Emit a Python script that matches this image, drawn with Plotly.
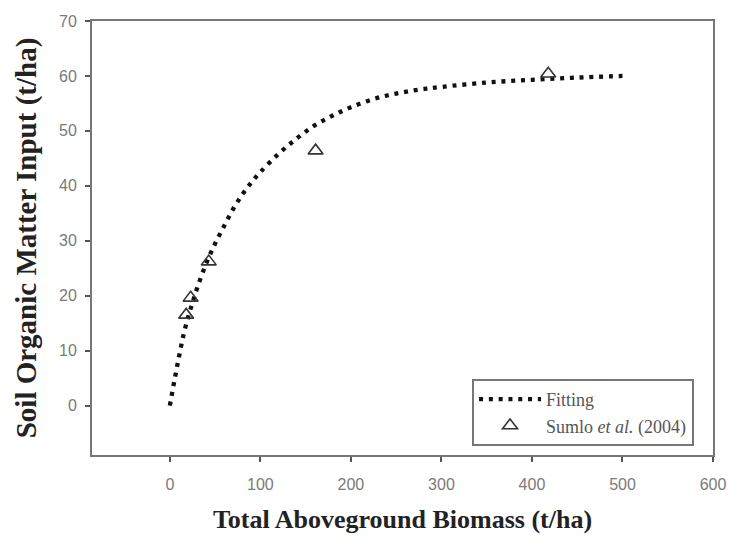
import plotly.graph_objects as go

# Fitted curve
fit_x = [0, 5, 10, 15, 20, 25, 30, 40, 50, 60, 70, 80, 90, 100, 120, 140, 160,
         180, 200, 225, 250, 275, 300, 350, 400, 450, 500]
fit_y = [0, 4.5, 8.8, 12.8, 16.0, 18.7, 21.3, 25.8, 29.5, 32.7, 35.8, 38.4,
         40.6, 42.5, 45.8, 48.6, 51.0, 52.8, 54.3, 55.8, 56.8, 57.5, 58.0,
         58.8, 59.3, 59.7, 60.0]

# Observed data
obs_x = [18, 23, 43, 161, 418]
obs_y = [16.5, 19.6, 26.2, 46.4, 60.4]

x_ticks = [0, 100, 200, 300, 400, 500, 600]
y_ticks = [0, 10, 20, 30, 40, 50, 60, 70]

fig = go.Figure()
fig.add_trace(go.Scatter(
    x=fit_x, y=fit_y, mode="lines", name="Fitting",
    line=dict(color="#111111", width=4.3, dash="4px,5.8px", shape="spline"),
))
fig.add_trace(go.Scatter(
    x=obs_x, y=obs_y, mode="markers", name="Sumlo <i>et al.</i> (2004)",
    marker=dict(symbol="triangle-up-open", size=13, color="#333333",
                line=dict(width=1.6, color="#333333")),
))

axis_common = dict(
    showgrid=False, zeroline=False, showline=True, mirror=True,
    linecolor="#777777", linewidth=2, ticks="outside", ticklen=5,
    tickwidth=2, tickcolor="#555555", automargin=False,
    tickfont=dict(family="Liberation Sans", size=16, color="#7a7a7a"),
)

fig.update_layout(
    width=729, height=545,
    margin=dict(l=92, r=16, t=21, b=90),
    paper_bgcolor="white", plot_bgcolor="white",
    xaxis=dict(range=[-86, 600], tickvals=x_ticks, ticklabelstandoff=9,
               **axis_common,
               title=dict(text="<b>Total Aboveground Biomass (t/ha)</b>",
                          font=dict(family="Liberation Serif", size=26, color="#222222"),
                          standoff=18)),
    yaxis=dict(range=[-9, 70], tickvals=y_ticks, ticklabelstandoff=5,
               **axis_common,
               title=dict(text="<b>Soil Organic Matter Input (t/ha)</b>",
                          font=dict(family="Liberation Serif", size=29, color="#222222"),
                          standoff=14)),
    legend=dict(x=0.612, y=0.021, xanchor="left", yanchor="bottom",
                bordercolor="#777777", borderwidth=2, bgcolor="white",
                font=dict(family="Liberation Serif", size=18, color="#555555"),
                itemwidth=62),
    showlegend=True,
)

fig.write_html("out.html")
